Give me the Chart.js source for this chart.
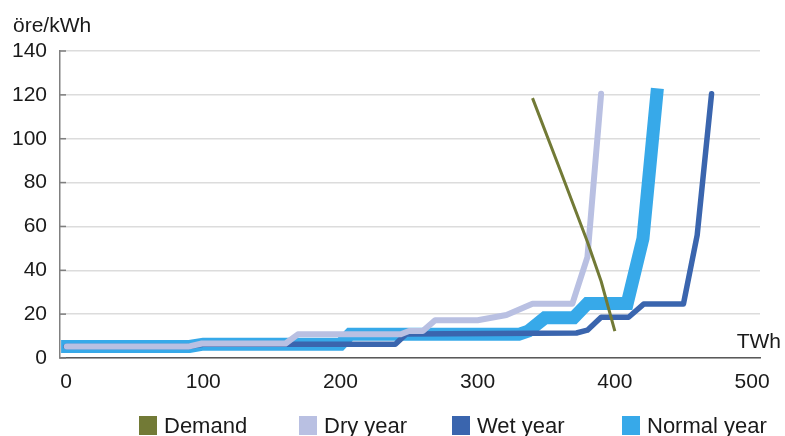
<!DOCTYPE html>
<html>
<head>
<meta charset="utf-8">
<script src="https://cdn.jsdelivr.net/npm/chart.js@4"></script>
<style>
  html, body { margin: 0; padding: 0; background: #fff; }
  #wrap { position: relative; width: 785px; height: 436px; }
  #legend { position: absolute; left: 0; top: 0; width: 785px; height: 436px; pointer-events: none;
            font-family: "Liberation Sans", Arial, Helvetica, sans-serif; font-size: 22px; color: #1a1a1a; }
  .li { position: absolute; top: 416px; height: 19px; white-space: nowrap; }
  .li .bx { position: absolute; left: 0; top: 0; width: 18px; height: 19px; }
  .li .tx { position: absolute; left: 25px; top: -3px; line-height: 25px; }
</style>
</head>
<body>
<div id="wrap">
  <canvas id="c" width="785" height="436"></canvas>
  <div id="legend"></div>
</div>
<script>
// ---- data ----
const seriesNames = ["Demand", "Dry year", "Wet year", "Normal year"];
const seriesColors = ["#727A36", "#B9C0E2", "#3A65AE", "#37A9E9"];

const demandTWh   = [340, 360, 380, 390, 400];
const demandPrice = [118.5, 86, 53, 35, 12.3];

const dryTWh   = [0.5, 89, 99, 160, 169, 244, 250, 260, 269, 300, 321, 340, 369, 380, 390];
const dryPrice = [5.2, 5.2, 6.6, 6.6, 10.8, 10.8, 12.3, 12.3, 17.2, 17.2, 19.6, 24.7, 24.7, 46, 120.5];

const wetTWh   = [0, 90, 100, 240, 248, 372, 380, 390, 410, 421, 450, 460, 470.5];
const wetPrice = [5.3, 5.3, 6.3, 6.3, 11, 11.4, 12.7, 18.6, 18.6, 24.6, 24.6, 56, 120.5];

const normalTWh   = [-3.6, 90, 100, 200, 207, 330, 337, 349, 370, 380, 409, 420.5, 431];
const normalPrice = [5.3, 5.3, 6.3, 6.3, 10.8, 10.8, 12.3, 18.3, 18.3, 24.8, 24.8, 54.5, 123];

const xTickValues = [0, 100, 200, 300, 400, 500];
const yTickValues = [0, 20, 40, 60, 80, 100, 120, 140];
const yTitle = "öre/kWh";
const xTitle = "TWh";

const toPts = (xs, ys) => xs.map((x, i) => ({ x: x, y: ys[i] }));
const FONT = '"Liberation Sans", Arial, Helvetica, sans-serif';
const TXT = '#1a1a1a';

const extras = {
  id: 'extras',
  beforeDatasetsDraw(chart) {
    const ctx = chart.ctx, y = chart.scales.y, ca = chart.chartArea;
    ctx.save();
    ctx.strokeStyle = '#7f7f7f';
    ctx.lineWidth = 1.5;
    yTickValues.forEach(v => {
      const py = y.getPixelForValue(v);
      ctx.beginPath(); ctx.moveTo(ca.left, py); ctx.lineTo(ca.left + 6, py); ctx.stroke();
    });
    ctx.restore();
  },
  afterDraw(chart) {
    const ctx = chart.ctx, ca = chart.chartArea;
    ctx.save();
    ctx.fillStyle = TXT;
    ctx.font = '21px ' + FONT;
    ctx.textBaseline = 'alphabetic';
    ctx.textAlign = 'left';
    ctx.fillText(yTitle, 13, 32);
    ctx.textAlign = 'right';
    ctx.fillText(xTitle, 781, ca.bottom - 10);
    ctx.restore();
  }
};

const datasets = [
  { label: seriesNames[0], data: toPts(demandTWh, demandPrice), borderColor: seriesColors[0], backgroundColor: seriesColors[0],
    borderWidth: 3, borderCapStyle: 'butt', borderJoinStyle: 'round' },
  { label: seriesNames[1], data: toPts(dryTWh, dryPrice), borderColor: seriesColors[1], backgroundColor: seriesColors[1],
    borderWidth: 6, borderCapStyle: 'round', borderJoinStyle: 'round' },
  { label: seriesNames[2], data: toPts(wetTWh, wetPrice), borderColor: seriesColors[2], backgroundColor: seriesColors[2],
    borderWidth: 5.5, borderCapStyle: 'round', borderJoinStyle: 'round' },
  { label: seriesNames[3], data: toPts(normalTWh, normalPrice), borderColor: seriesColors[3], backgroundColor: seriesColors[3],
    borderWidth: 13, borderCapStyle: 'butt', borderJoinStyle: 'miter' }
];

const chart = new Chart(document.getElementById('c'), {
  type: 'line',
  data: { datasets: datasets },
  plugins: [extras],
  options: {
    responsive: false,
    animation: false,
    devicePixelRatio: 1,
    layout: { padding: { top: 51, right: 25, bottom: 0, left: 0 } },
    elements: { point: { radius: 0, hoverRadius: 0 }, line: { tension: 0, fill: false } },
    plugins: { legend: { display: false }, tooltip: { enabled: false }, title: { display: false } },
    scales: {
      x: {
        type: 'linear', min: -4.4, max: 505.8,
        afterBuildTicks: s => { s.ticks = xTickValues.map(v => ({ value: v })); },
        afterFit: s => { s.height = 78; },
        grid: { display: false, drawTicks: false },
        border: { display: true, color: '#595959', width: 1.5 },
        ticks: { color: TXT, font: { family: FONT, size: 21 }, padding: 12, maxRotation: 0, autoSkip: false }
      },
      y: {
        type: 'linear', min: 0, max: 140,
        afterBuildTicks: s => { s.ticks = yTickValues.map(v => ({ value: v })); },
        afterFit: s => { s.width = 60; },
        grid: { color: '#dcdcdc', lineWidth: 1.5, drawTicks: false },
        border: { display: true, color: '#808080', width: 1.5 },
        ticks: { color: TXT, font: { family: FONT, size: 21 }, padding: 13 }
      }
    }
  }
});

// HTML legend built from the chart's datasets
const legendLeft = [139, 299, 452, 622];
const lg = document.getElementById('legend');
chart.data.datasets.forEach((ds, i) => {
  const item = document.createElement('div');
  item.className = 'li';
  item.style.left = legendLeft[i] + 'px';
  const bx = document.createElement('span'); bx.className = 'bx'; bx.style.background = ds.borderColor;
  const tx = document.createElement('span'); tx.className = 'tx'; tx.textContent = ds.label;
  item.appendChild(bx); item.appendChild(tx);
  lg.appendChild(item);
});
</script>
</body>
</html>
